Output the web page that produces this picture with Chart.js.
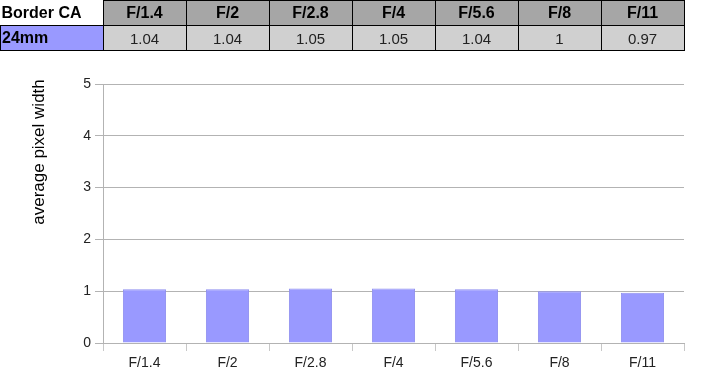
<!DOCTYPE html>
<html>
<head>
<meta charset="utf-8">
<script src="https://cdn.jsdelivr.net/npm/chart.js@4"></script>
<style>
  body { margin: 0; background: #fff; font-family: "Liberation Sans", Arial, sans-serif; }
  #wrap { position: relative; width: 702px; height: 386px; }
  #chart { position: absolute; left: 0; top: 0; }
  table { position: absolute; left: 0; top: 0; border-collapse: collapse; font-size: 15px; }
  td { height: 24px; padding: 0; border: 1px solid #000; text-align: center; width: 82px; }
  .hd td { background: #a6a6a6; font-weight: bold; font-size: 16px; }
  .hd td.corner { background: #fff; border-top: none; border-left: none; text-align: left; font-weight: bold; width: 101px; padding-left: 1px; }
  .row td { background: #d0d0d0; color: #222; }
  .row td.lens { background: #9999ff; font-weight: bold; font-size: 16px; text-align: left; color: #000; padding-left: 1px; }
</style>
</head>
<body>
<div id="wrap">
  <canvas id="chart" width="702" height="386"></canvas>
  <table id="tbl"></table>
</div>
<script>
const apertures = ["F/1.4", "F/2", "F/2.8", "F/4", "F/5.6", "F/8", "F/11"];
const borderCA24mm = [1.04, 1.04, 1.05, 1.05, 1.04, 1, 0.97];
const yTicks = [0, 1, 2, 3, 4, 5];

// table above the chart
const tbl = document.getElementById("tbl");
const hd = document.createElement("tr");
hd.className = "hd";
hd.innerHTML = '<td class="corner">Border CA</td>' + apertures.map(a => "<td>" + a + "</td>").join("");
const row = document.createElement("tr");
row.className = "row";
row.innerHTML = '<td class="lens">24mm</td>' + borderCA24mm.map(v => "<td>" + v + "</td>").join("");
tbl.appendChild(hd);
tbl.appendChild(row);

const yTitle = {
    id: "yTitle",
    afterDraw(chart) {
        const c = chart.ctx;
        c.save();
        c.translate(39, 152);
        c.rotate(-Math.PI / 2);
        c.fillStyle = "#000";
        c.font = "17px 'Liberation Sans', Arial, sans-serif";
        c.textAlign = "center";
        c.textBaseline = "middle";
        c.fillText("average pixel width", 0, 0);
        c.restore();
    }
};

const ctx = document.getElementById("chart").getContext("2d");
new Chart(ctx, {
    type: "bar",
    data: {
        labels: apertures,
        datasets: [{
            data: borderCA24mm,
            backgroundColor: "#9999ff",
            borderColor: "#8f8fef",
            borderWidth: 1,
            barPercentage: 0.52,
            categoryPercentage: 1
        }]
    },
    options: {
        responsive: false,
        animation: false,
        layout: { padding: { top: 84, right: 18, left: 0, bottom: 0 } },
        plugins: { legend: { display: false }, tooltip: { enabled: false } },
        scales: {
            x: {
                afterFit(s) { s.height = 43; },
                grid: { drawOnChartArea: false, color: "#c8c8c8", tickLength: 8 },
                border: { color: "#b3b3b3" },
                ticks: { color: "#222", font: { family: "'Liberation Sans', Arial", size: 14 }, padding: 4 }
            },
            y: {
                min: 0,
                max: 5,
                afterFit(s) { s.width = 103; },
                afterBuildTicks(s) { s.ticks = yTicks.map(v => ({ value: v })); },
                grid: { color: "#b3b3b3", tickLength: 8 },
                border: { color: "#b3b3b3" },
                ticks: { color: "#222", font: { family: "'Liberation Sans', Arial", size: 14 }, padding: 4 }
            }
        }
    },
    plugins: [yTitle]
});
</script>
</body>
</html>
